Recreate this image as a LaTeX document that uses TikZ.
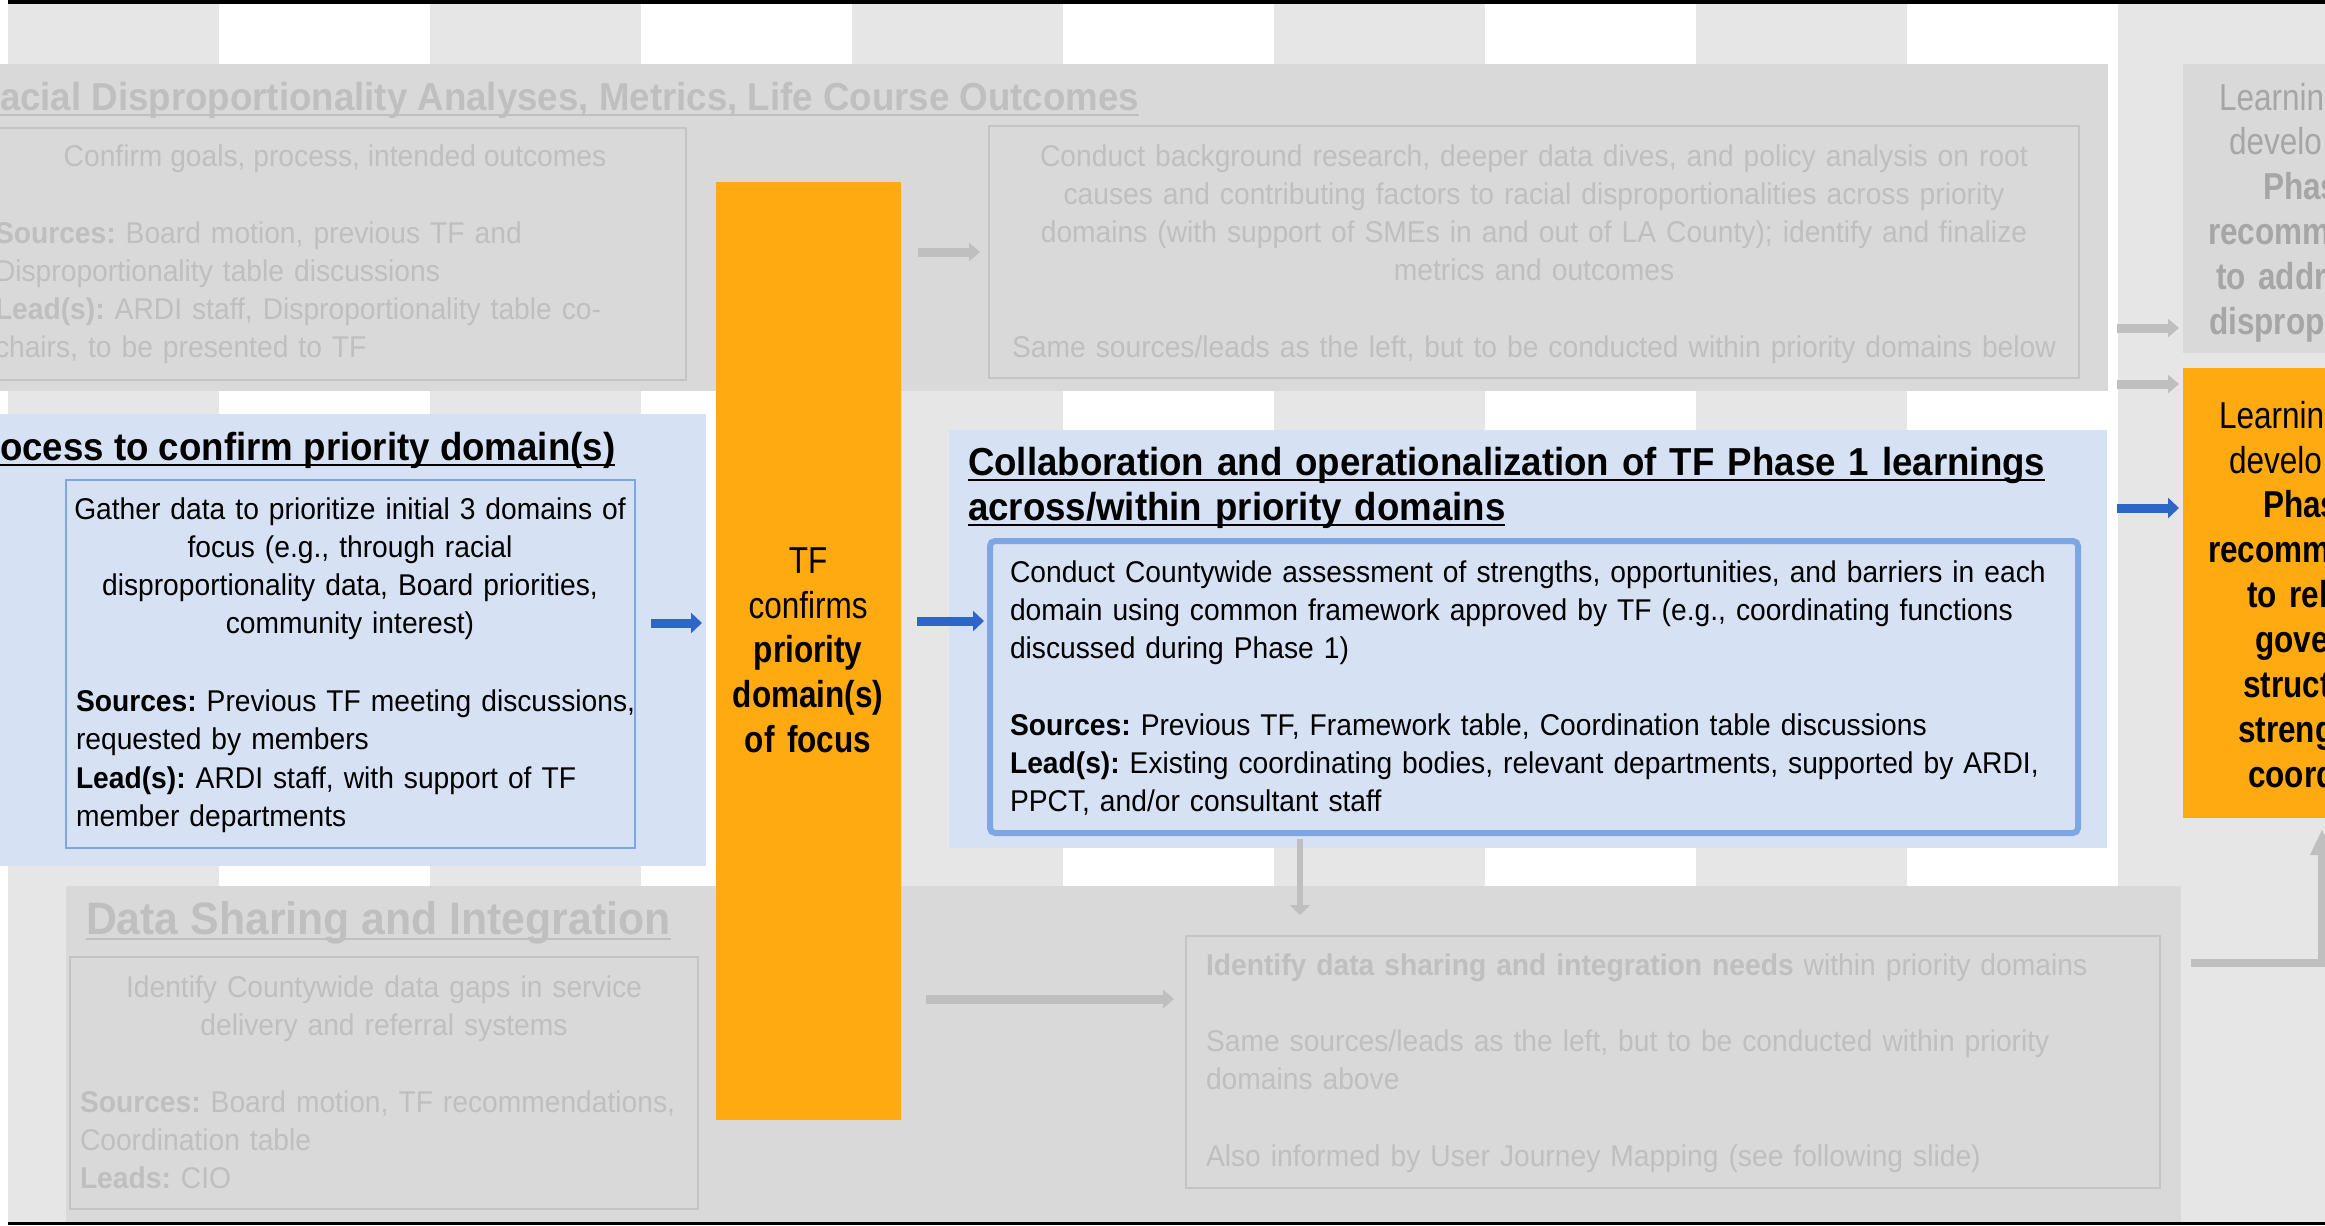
\documentclass[tikz,border=0pt]{standalone}
\usepackage{fontspec}
\setmainfont{Liberation Sans}[FakeStretch=0.94]
\newfontfamily\narrowfont{Liberation Sans}[FakeStretch=0.84]
\usetikzlibrary{arrows.meta}
\frenchspacing

\definecolor{stripegray}{HTML}{E6E6E6}
\definecolor{bandgray}{HTML}{D9D9D9}
\definecolor{fadetext}{HTML}{BFBFBF}
\definecolor{fadeline}{HTML}{C4C4C4}
\definecolor{darkfade}{HTML}{A6A6A6}
\definecolor{panelblue}{HTML}{D6E2F4}
\definecolor{edgeblue}{HTML}{7FA6E4}
\definecolor{arrowblue}{HTML}{2E66C8}
\definecolor{tforange}{HTML}{FFAA10}

\newcommand{\bodysize}{\fontsize{8.54pt}{10.9pt}\selectfont}
\newcommand{\titlesize}{\fontsize{11.1pt}{12.8pt}\selectfont}
\newcommand{\bigtitlesize}{\fontsize{12.95pt}{15pt}\selectfont}
\newcommand{\narrowsize}{\narrowfont\fontsize{10.67pt}{12.8pt}\selectfont}
\newsavebox{\ulbox}
\newcommand{\ulbar}[1]{\leavevmode\hbox{\sbox{\ulbox}{#1}\rlap{\vrule height -1.1pt depth 1.7pt width \wd\ulbox}\usebox{\ulbox}}}

\begin{document}
\begin{tikzpicture}[x=0.1mm, y=-0.1mm, inner sep=0pt, outer sep=0pt,
  plate/.style 2 args={anchor=north west, minimum width=#1, minimum height=#2},
  fadebox/.style={draw=fadeline, line width=0.25mm},
  bodytxt/.style={font=\bodysize, text=black},
  fadetxt/.style={font=\bodysize, text=fadetext},
  headtxt/.style={font=\titlesize\bfseries, text=black},
  sidetxt/.style={font=\narrowsize, text width=20mm, align=left, anchor=base west},
  bluearrow/.style={draw=arrowblue, line width=0.9mm, -{Triangle[length=1.1mm, width=2mm]}},
  grayarrow/.style={draw=fadetext, line width=0.9mm, -{Triangle[length=1.1mm, width=1.8mm]}}]
\useasboundingbox (0,0) rectangle (2325,1225);
\fill[white] (0,0) rectangle (2325,1225);
% background columns
\foreach \k in {0,...,5}
    \fill[stripegray] ({8+422*\k},0) rectangle ++(211,1225);
\fill[black] (8,0) rectangle (2325,3.5);
\fill[black] (8,1221.5) rectangle (2325,1225);

% bands and panels
\node[plate={210.8mm}{32.7mm}, fill=bandgray] (topBand) at (0,64) {};
\node[plate={211.5mm}{33.6mm}, fill=bandgray] (shareBand) at (66,886) {};
\node[plate={70.6mm}{25.2mm}, fadebox] (goalsBox) at (-20,128) {};
\node[plate={109mm}{25.2mm}, fadebox] (rootBox) at (989,126) {};
\node[plate={62.8mm}{25.2mm}, fadebox] (shareBox) at (70,957) {};
\node[plate={97.4mm}{25.2mm}, fadebox] (needsBox) at (1186,936) {};
\node[plate={70.6mm}{45.2mm}, fill=panelblue] (leftPanel) at (0,414) {};
\node[plate={56.9mm}{36.8mm}, draw=edgeblue, line width=0.2mm] (gatherBox) at (66,480) {};
\node[plate={115.8mm}{41.8mm}, fill=panelblue] (midPanel) at (949,430) {};
\node[plate={108.8mm}{29.2mm}, draw=edgeblue, line width=0.6mm, rounded corners=0.5mm] (assessBox) at (990,541) {};
\node[plate={18.5mm}{93.8mm}, fill=tforange] (tfBar) at (716,182) {};
\node[plate={20mm}{28.9mm}, fill=bandgray] (gateGray) at (2183,64) {};
\node[plate={20mm}{45mm}, fill=tforange] (gateOrange) at (2183,368) {};

% texts
\node[font=\titlesize\bfseries, text=fadetext, anchor=base west] (racialTitle) at (0,110)
    {\ulbar{acial Disproportionality Analyses, Metrics, Life Course Outcomes}};
\node[fadetxt, anchor=base] (goalsTxt) at (335,166) {Confirm goals, process, intended outcomes};
\node[fadetxt, anchor=base west, text width=70mm, align=left] (goalsSrc) at (-5,243)
    {\textbf{Sources:} Board motion, previous TF and\\Disproportionality table discussions\\
     \textbf{Lead(s):} ARDI staff, Disproportionality table co-\\chairs, to be presented to TF};
\node[fadetxt, anchor=base, text width=110mm, align=center] (rootTxt) at (1534,166)
    {Conduct background research, deeper data dives, and policy analysis on root\\
     causes and contributing factors to racial disproportionalities across priority\\
     domains (with support of SMEs in and out of LA County); identify and finalize\\
     metrics and outcomes\\~\\
     Same sources/leads as the left, but to be conducted within priority domains below};
\node[font=\narrowsize, anchor=base, text width=18mm, align=center] (tfTxt) at (808,573)
    {TF\\confirms\\\textbf{priority}\\\textbf{domain(s)}\\\textbf{of focus}};
\node[headtxt, anchor=base west] (priorityTitle) at (0,460) {\ulbar{ocess to confirm priority domain(s)}};
\node[bodytxt, anchor=base, text width=64mm, align=center] (gatherTxt) at (350,519)
    {Gather data to prioritize initial 3 domains of\\focus (e.g., through racial\\
     disproportionality data, Board priorities,\\community interest)};
\node[bodytxt, anchor=base west, text width=62mm, align=left] (gatherSrc) at (76,711.5)
    {\textbf{Sources:} Previous TF meeting discussions,\\requested by members\\
     \textbf{Lead(s):} ARDI staff, with support of TF\\member departments};
\node[headtxt, anchor=base west, text width=115mm, align=left] (collabTitle) at (968,475)
    {\ulbar{Collaboration and operationalization of TF Phase 1 learnings}\\
     \ulbar{across/within priority domains}};
\node[bodytxt, anchor=base west, text width=110mm, align=left] (assessTxt) at (1010,582)
    {Conduct Countywide assessment of strengths, opportunities, and barriers in each\\
     domain using common framework approved by TF (e.g., coordinating functions\\
     discussed during Phase 1)\\~\\
     \textbf{Sources:} Previous TF, Framework table, Coordination table discussions\\
     \textbf{Lead(s):} Existing coordinating bodies, relevant departments, supported by ARDI,\\
     PPCT, and/or consultant staff};
\node[sidetxt, text=darkfade] (gateGrayTxt) at (2208,110)
    {\hspace*{1.1mm}Learnin\\\hspace*{2.1mm}develo\\\hspace*{5.5mm}\textbf{Phas}\\
     \textbf{recomm}\\\hspace*{0.8mm}\textbf{to addr}\\\hspace*{0.1mm}\textbf{disprop}};
\node[sidetxt, text=black] (gateOrangeTxt) at (2208,428)
    {\hspace*{1.1mm}Learnin\\\hspace*{2.1mm}develo\\\hspace*{5.5mm}\textbf{Phas}\\
     \textbf{recomm}\\\hspace*{3.9mm}\textbf{to rel}\\\hspace*{4.7mm}\textbf{gove}\\
     \hspace*{3.5mm}\textbf{struct}\\\hspace*{3mm}\textbf{streng}\\\hspace*{4mm}\textbf{coord}};
\node[font=\bigtitlesize\bfseries, text=fadetext, anchor=base west] (shareTitle) at (86,934)
    {\ulbar{Data Sharing and Integration}};
\node[fadetxt, anchor=base, text width=64mm, align=center] (gapsTxt) at (384,997)
    {Identify Countywide data gaps in service\\delivery and referral systems};
\node[fadetxt, anchor=base west, text width=62mm, align=left] (gapsSrc) at (80,1112)
    {\textbf{Sources:} Board motion, TF recommendations,\\Coordination table\\\textbf{Leads:} CIO};
\node[fadetxt, anchor=base west, text width=96mm, align=left] (needsTxt) at (1206,975)
    {\textbf{Identify data sharing and integration needs} within priority domains\\~\\
     Same sources/leads as the left, but to be conducted within priority\\domains above\\~\\
     Also informed by User Journey Mapping (see following slide)};

% connectors
\coordinate (rowRoot) at (0,252);
\coordinate (rowGray) at (0,328);
\coordinate (rowOrange) at (0,384);
\coordinate (rowPhase) at (0,508);
\coordinate (rowAssess) at (0,621);
\coordinate (rowGather) at (0,623);
\coordinate (rowNeeds) at (0,999);
\coordinate (colDown) at (1300,0);
\coordinate (elbowStart) at (2191,963);
\coordinate (elbowEnd) at (2322,829);
\draw[bluearrow, shorten <=1.6mm, shorten >=1.4mm] (rowGather -| gatherBox.east) -- (rowGather -| tfBar.west);
\draw[bluearrow, shorten <=1.6mm, shorten >=0.6mm] (rowAssess -| tfBar.east) -- (rowAssess -| assessBox.west);
\draw[grayarrow, shorten <=1.7mm, shorten >=0.9mm] (rowRoot -| tfBar.east) -- (rowRoot -| rootBox.west);
\draw[grayarrow, shorten <=2.5mm, shorten >=1.2mm] (rowNeeds -| tfBar.east) -- (rowNeeds -| needsBox.west);
\draw[grayarrow, shorten <=0.9mm, shorten >=0.4mm] (rowGray -| topBand.east) -- (rowGray -| gateGray.west);
\draw[grayarrow, shorten <=0.9mm, shorten >=0.4mm] (rowOrange -| topBand.east) -- (rowOrange -| gateOrange.west);
\draw[bluearrow, shorten <=1mm, shorten >=0.4mm] (rowPhase -| midPanel.east) -- (rowPhase -| gateOrange.west);
\draw[draw=fadetext, line width=0.6mm, -{Triangle[length=1mm, width=2mm]}, shorten <=0.6mm, shorten >=2.1mm]
    (colDown |- assessBox.south) -- (colDown |- needsBox.north);
\draw[draw=fadetext, line width=0.8mm, -{Triangle[length=2.6mm, width=2.2mm]}] (elbowStart) -| (elbowEnd);
\end{tikzpicture}
\end{document}
